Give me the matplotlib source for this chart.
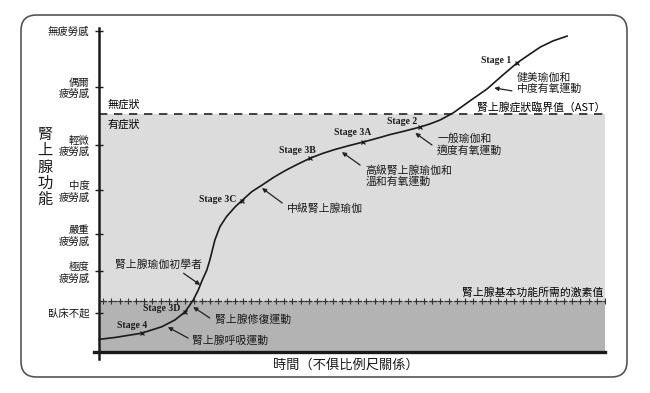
import numpy as np
import matplotlib
matplotlib.use("Agg")
import matplotlib.pyplot as plt
from matplotlib.patches import FancyBboxPatch

plt.rcParams['font.family'] = ['Noto Sans CJK TC', 'DejaVu Sans']

# --- data (time 0-100, function 0-100) ---
curve_x = [0, 3.2, 8.4, 12.4, 15.0, 17.0, 18.6, 19.6, 20.4, 21.3, 21.9, 22.4,
           22.9, 23.9, 25.2, 26.9, 28.2, 30.2, 32.2, 34.5, 36.8, 39.3, 41.7,
           44.2, 46.6, 49.4, 52.2, 54.8, 57.5, 60.4, 63.4, 65.4, 67.4, 70.0,
           73.3, 76.7, 79.6, 82.6, 85.2, 87.2, 89.7, 92.5]
curve_y = [3.9, 4.5, 5.8, 7.8, 9.9, 12.4, 16.0, 19.1, 22.2, 25.3, 28.4, 31.5,
           34.6, 38.7, 41.8, 44.8, 46.7, 49.5, 51.5, 53.9, 56.0, 58.0, 59.8,
           61.3, 62.5, 63.7, 64.8, 65.9, 67.1, 68.2, 69.4, 70.4, 71.6, 73.8,
           77.5, 81.2, 85.2, 89.2, 92.0, 94.1, 96.0, 97.5]

stage_names = ['Stage 1', 'Stage 2', 'Stage 3A', 'Stage 3B', 'Stage 3C', 'Stage 3D', 'Stage 4']
stage_x = [82.6, 63.4, 52.2, 41.7, 28.2, 17.0, 8.4]
stage_y = [89.2, 69.4, 64.8, 59.8, 46.7, 12.4, 5.8]

tick_pos = [99.1, 81.8, 63.9, 50.0, 36.4, 25.0, 12.0]
tick_labels = ['無疲勞感', '偶爾\n疲勞感', '輕微\n疲勞感', '中度\n疲勞感',
               '嚴重\n疲勞感', '極度\n疲勞感', '臥床不起']

ast_level = 73.5
basic_level = 15.7

fig = plt.figure(figsize=(6.5, 3.93), dpi=100)
ax = fig.add_axes([94 / 650, (393 - 358.5) / 393, (605 - 94) / 650, 330.5 / 393])
ax.set_xlim(-1, 100)
ax.set_ylim(-2, 100)

# shaded zones
ax.fill_between([0, 100], 0, basic_level, color='#b3b3b3', lw=0, zorder=0)
ax.fill_between([0, 100], basic_level, ast_level, color='#dcdcdc', lw=0, zorder=0)
ax.plot([0, 100], [ast_level, ast_level], ls=(0, (5, 4)), color='#222222', lw=1.2, zorder=2)
ax.plot([0, 100], [basic_level, basic_level], ls=(0, (2, 2)), color='#333333', lw=0.9, zorder=2)
ax.plot(np.linspace(0.8, 100, 62), [basic_level] * 62, ls='none', marker='+',
        ms=4, mew=0.8, color='#333333', zorder=2)

# curve and stage ticks
ax.plot(curve_x, curve_y, color='#1a1a1a', lw=1.2, zorder=3, solid_joinstyle='round')
ax.plot(stage_x, stage_y, ls='none', marker='x', ms=3, mew=0.9, color='#1a1a1a', zorder=4)
for name, tx, ty in zip(stage_names,
                        [81.4, 62.8, 53.8, 42.9, 27.1, 16.0, 9.5],
                        [90.1, 71.0, 67.6, 62.3, 47.2, 13.3, 8.3]):
    ax.text(tx, ty, name, ha='right', va='center', fontsize=7, fontweight='bold',
            family='Liberation Serif', color='#1a1a1a')

# annotations
arrow = dict(arrowstyle='-|>', lw=0.9, color='#222222', mutation_scale=6,
             shrinkA=0, shrinkB=0)
notes = [
    ('健美瑜伽和\n中度有氧運動', 82.6, 82.9, (78.1, 81.5), (81.6, 80.6)),
    ('一般瑜伽和\n適度有氧運動', 66.8, 64.0, (62.5, 67.6), (65.8, 63.9)),
    ('高級腎上腺瑜伽和\n溫和有氧運動', 52.6, 54.3, (48.0, 61.7), (51.6, 57.7)),
    ('中級腎上腺瑜伽', 37.2, 44.4, (32.2, 50.6), (36.2, 46.0)),
    ('腎上腺瑜伽初學者', 3.2, 26.9, (20.0, 20.7), (16.7, 24.3)),
    ('腎上腺修復運動', 22.9, 9.9, (18.6, 13.9), (21.9, 10.5)),
    ('腎上腺呼吸運動', 18.4, 3.7, (13.6, 7.7), (17.6, 4.3)),
]
for txt, tx, ty, head, tail in notes:
    ax.text(tx, ty, txt, ha='left', va='center', fontsize=7.8, color='#1a1a1a',
            linespacing=1.1)
    ax.annotate('', xy=head, xytext=tail, arrowprops=arrow)

ax.text(100, 75.6, '腎上腺症狀臨界值（AST）', ha='right', va='center', fontsize=7.8)
ax.text(99.6, 18.5, '腎上腺基本功能所需的激素值', ha='right', va='center', fontsize=7.8)
ax.text(1.6, 76.4, '無症狀', ha='left', va='center', fontsize=7.8)
ax.text(1.6, 70.3, '有症狀', ha='left', va='center', fontsize=7.8)

# axes styling
for side in ['top', 'right']:
    ax.spines[side].set_visible(False)
ax.spines['left'].set_position(('data', 0))
ax.spines['bottom'].set_position(('data', 0))
ax.spines['left'].set_linewidth(1.8)
ax.spines['bottom'].set_linewidth(2.4)
ax.spines['left'].set_color('#1a1a1a')
ax.spines['bottom'].set_color('#1a1a1a')
ax.set_xticks([])
ax.set_yticks(tick_pos)
ax.set_yticklabels(tick_labels, fontsize=7.5, linespacing=1.15)
ax.tick_params(axis='y', direction='inout', length=6, width=1, pad=4, colors='#1a1a1a')

fig.text(346 / 650, 1 - 365 / 393, '時間（不俱比例尺關係）', ha='center', va='center',
         fontsize=9.5, color='#1a1a1a')
fig.text(45 / 650, 1 - 167 / 393, '腎\n上\n腺\n功\n能', ha='center', va='center',
         fontsize=11, linespacing=0.95, color='#1a1a1a')

# rounded frame
frame = FancyBboxPatch((21 / 650, 1 - 377 / 393), (627 - 21) / 650, (377 - 15) / 393,
                       boxstyle='round,pad=0,rounding_size=0.024',
                       mutation_aspect=650 / 393, transform=fig.transFigure,
                       facecolor='none', edgecolor='#555555', lw=1.2)
fig.patches.append(frame)

fig.savefig('out.png', dpi=100)
